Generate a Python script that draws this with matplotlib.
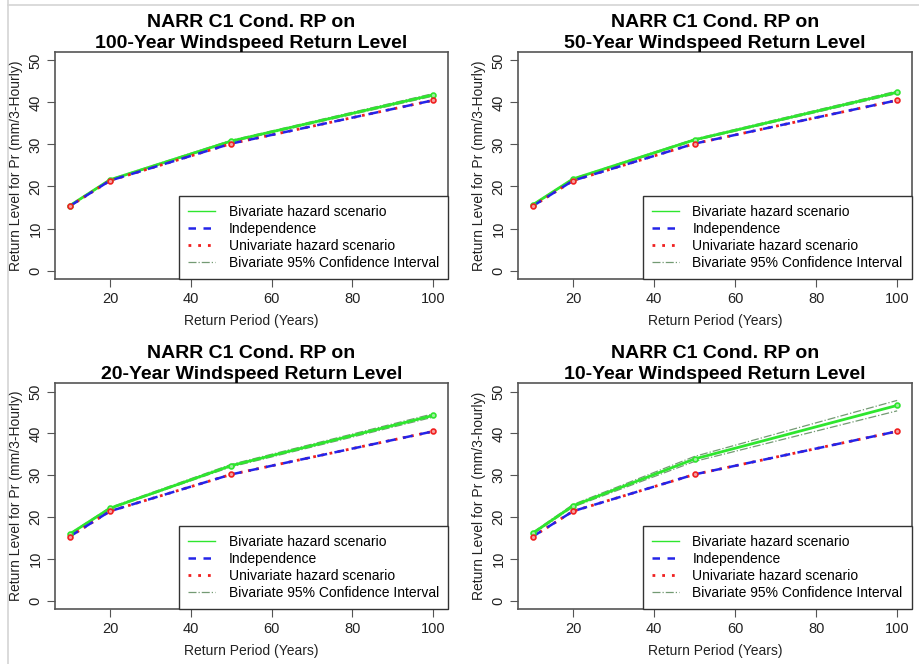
import matplotlib
matplotlib.use("Agg")
import matplotlib.pyplot as plt
from matplotlib.lines import Line2D

plt.rcParams['font.family'] = ['Liberation Sans', 'DejaVu Sans']

# return periods (years)
rp = [10, 20, 50, 100]

# univariate / independence return levels (same in every panel)
univ = [15.3, 21.4, 30.2, 40.5]
indep = [15.3, 21.4, 30.2, 40.5]

# bivariate return levels per windspeed return level
biv_100 = [15.4, 21.6, 30.8, 41.8]
biv_50 = [15.6, 21.8, 31.1, 42.4]
biv_20 = [15.9, 22.1, 32.3, 44.3]
biv_10 = [16.1, 22.7, 33.9, 46.7]

# 95% confidence bounds for the bivariate levels
lo_100 = [15.3, 21.5, 30.6, 41.5]
hi_100 = [15.5, 21.7, 31.0, 42.1]
lo_50 = [15.5, 21.7, 30.9, 42.1]
hi_50 = [15.7, 21.9, 31.3, 42.7]
lo_20 = [15.8, 22.0, 32.0, 43.9]
hi_20 = [16.0, 22.3, 32.6, 44.7]
lo_10 = [15.9, 22.4, 33.3, 45.4]
hi_10 = [16.3, 23.0, 34.5, 47.9]

titles = ["NARR C1 Cond. RP on\n100-Year Windspeed Return Level",
          "NARR C1 Cond. RP on\n50-Year Windspeed Return Level",
          "NARR C1 Cond. RP on\n20-Year Windspeed Return Level",
          "NARR C1 Cond. RP on\n10-Year Windspeed Return Level"]
ylabels = ["Return Level for Pr (mm/3-Hourly)"] * 3 + ["Return Level for Pr (mm/3-hourly)"]
legend_labels = ["Bivariate hazard scenario", "Independence",
                 "Univariate hazard scenario", "Bivariate 95% Confidence Interval"]

panels = [(biv_100, lo_100, hi_100), (biv_50, lo_50, hi_50),
          (biv_20, lo_20, hi_20), (biv_10, lo_10, hi_10)]

GREEN = '#2ee62e'
BLUE = '#2424e8'
RED = '#f02020'
CI = '#739a73'
AXC = '#555555'

fig = plt.figure(figsize=(9.2, 6.64), dpi=100)
boxes = [[0.0598, 0.5798, 0.427, 0.342], [0.563, 0.5798, 0.428, 0.342],
         [0.0598, 0.0828, 0.427, 0.340], [0.563, 0.0828, 0.428, 0.340]]

for i, (biv, lo, hi) in enumerate(panels):
    ax = fig.add_axes(boxes[i])
    ax.plot(rp, lo, color=CI, lw=0.9, ls='-.')
    ax.plot(rp, hi, color=CI, lw=0.9, ls='-.')
    ax.plot(rp, biv, color=GREEN, lw=2)
    ax.plot(rp, univ, color=RED, lw=2, ls=(0, (1, 2)))
    ax.plot(rp, indep, color=BLUE, lw=1.8, ls=(0, (4, 3)))
    ax.plot(rp, biv, 'o', ms=3.5, mfc='#a0eea0', mec=GREEN, mew=1.2)
    ax.plot(rp, univ, 'o', ms=3.5, mfc='#f4a0a0', mec=RED, mew=1.2)

    ax.set_xlim(6.4, 103.6)
    ax.set_ylim(-2, 52)
    ax.set_xticks([20, 40, 60, 80, 100])
    ax.set_yticks([0, 10, 20, 30, 40, 50])
    for lab in ax.get_yticklabels():
        lab.set_rotation(90)
        lab.set_va('center')
    ax.tick_params(direction='out', length=6, color=AXC, labelsize=10.5,
                   labelcolor='#222222', pad=3)
    for s in ax.spines.values():
        s.set_color(AXC)
        s.set_linewidth(1.2)
    ax.set_title(titles[i], fontsize=14, fontweight='bold', pad=1, linespacing=1.3)
    ax.set_xlabel("Return Period (Years)", fontsize=10, color='#222222', labelpad=6)
    ax.set_ylabel(ylabels[i], fontsize=10, color='#222222', labelpad=4)

    handles = [Line2D([], [], color=GREEN, lw=1),
               Line2D([], [], color=BLUE, lw=1.8, ls=(0, (3, 3))),
               Line2D([], [], color=RED, lw=2, ls=(0, (1, 2.5))),
               Line2D([], [], color=CI, lw=0.9, ls='-.')]
    leg = ax.legend(handles, legend_labels, loc='lower right', bbox_to_anchor=(1, 0),
                    borderaxespad=0, fancybox=False, fontsize=10, handlelength=1.95,
                    handletextpad=0.95, labelspacing=0.22, borderpad=0.65,
                    framealpha=1)
    leg.get_frame().set_edgecolor('#333333')
    leg.get_frame().set_linewidth(1.0)

# light screenshot frame
fig.add_artist(Line2D([8 / 920, 8 / 920], [0, 1], color='#d4d4d4', lw=1.2))
fig.add_artist(Line2D([8 / 920, 1], [1 - 5 / 664, 1 - 5 / 664], color='#d4d4d4', lw=1.2))

fig.savefig("out.png", dpi=100)
